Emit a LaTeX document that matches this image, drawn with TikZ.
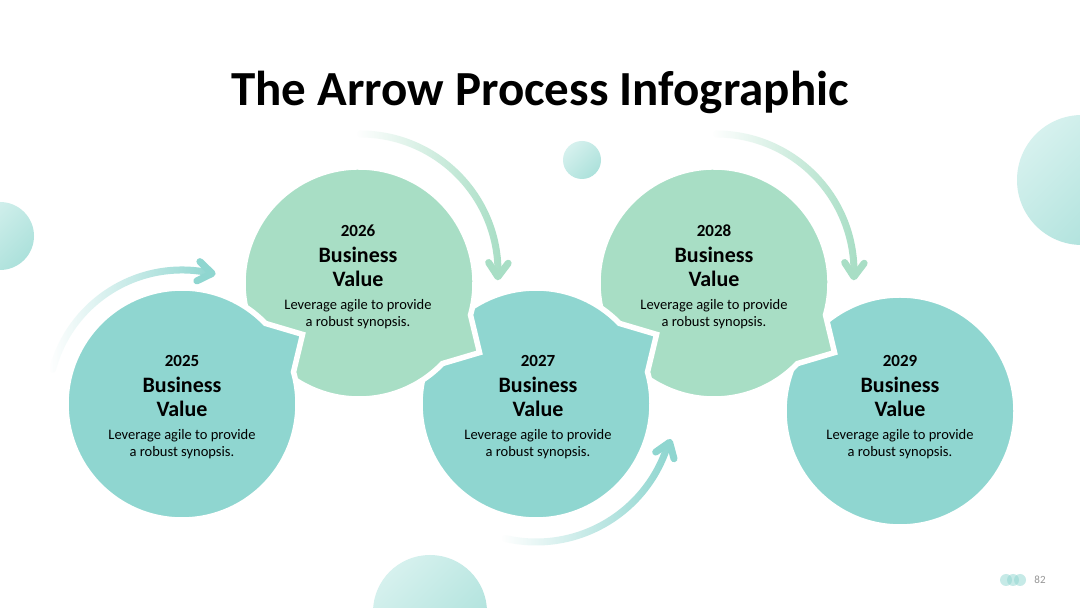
\documentclass[tikz,border=0pt]{standalone}
\usepackage{fontspec}
\setmainfont{Carlito}
\usepackage{xcolor}
\usetikzlibrary{calc, fadings}
\definecolor{tealfill}{RGB}{143, 214, 208}
\definecolor{greenfill}{RGB}{168, 222, 197}
\definecolor{softteal}{RGB}{214, 241, 238}
\definecolor{deepsoft}{RGB}{172, 225, 219}
\definecolor{pagegray}{RGB}{150, 150, 150}

\tikzfading[name=fadein, left color=transparent!100, middle color=transparent!10, right color=transparent!0]

% speech bubble: centre, tip angle, radius, colour
\newcommand{\bubble}[4]{%
  \path[bubble, fill=#4]
    ($(#1)+(#2-14:#3)$) -- ($(#1)+(#2:{#3*1.2})$) -- ($(#1)+(#2+14:#3)$)
    arc[start angle=#2+14, end angle=#2+346, radius=#3] -- cycle;}

\begin{document}
\begin{tikzpicture}[
    x=1pt, y=1pt,
    bubble/.style={draw=white, line width=5.5pt},
    flow/.style={line width=7pt, line cap=round, path fading=fadein},
    chev/.style={line width=7pt, line cap=round, line join=round},
    decor/.style={top color=softteal, bottom color=deepsoft, shading angle=45},
    title/.style={font=\fontsize{49}{49}\selectfont\bfseries, anchor=base},
    yearlbl/.style={font=\fontsize{17}{17}\selectfont\bfseries, anchor=base},
    headlbl/.style={font=\fontsize{22}{22}\selectfont\bfseries, anchor=base},
    notelbl/.style={font=\fontsize{14.5}{14.5}\selectfont, anchor=base}
]
\useasboundingbox[fill=white] (0,0) rectangle (1080,608);

%% ── Soft circles ────────────────────────────────────────────────────────────
\shade[decor] (582,448) circle[radius=19];
\shade[decor] (0,372) circle[radius=34];
\shade[decor] (1082,428) circle[radius=65];
\shade[decor] (430,-4) circle[radius=57];

%% ── Title ───────────────────────────────────────────────────────────────────
\node[title] (heading) at (540,502) {The Arrow Process Infographic};

%% ── Bubbles (last one underneath) ───────────────────────────────────────────
\coordinate (c1) at (182,204);
\coordinate (c2) at (359,325);
\coordinate (c3) at (536,204);
\coordinate (c4) at (714,325);
\coordinate (c5) at (900,197);

\path[bubble, fill=tealfill] (c5) circle[radius=116];
\bubble{c4}{-30}{116}{greenfill}
\bubble{c3}{30}{116}{tealfill}
\bubble{c2}{-30}{116}{greenfill}
\bubble{c1}{30}{116}{tealfill}

%% ── Curved arrows ───────────────────────────────────────────────────────────
\draw[flow, tealfill] ($(c1)+(165:134)$) arc[start angle=165, end angle=78, radius=134];
\draw[chev, tealfill] ($(c1)+(77:134)+(-9+145:17)$) -- ($(c1)+(77:134)$) -- ($(c1)+(77:134)+(-9-145:17)$);

\draw[flow, greenfill] ($(c2)+(1,11)+(90:138)$) arc[start angle=90, end angle=0, radius=138];
\draw[chev, greenfill] ($(c2)+(1,11)+(-2:138)+(-92+145:17)$) -- ($(c2)+(1,11)+(-2:138)$) -- ($(c2)+(1,11)+(-2:138)+(-92-145:17)$);

\draw[flow, tealfill] ($(c3)+(-103:138)$) arc[start angle=-103, end angle=-18, radius=138];
\draw[chev, tealfill] ($(c3)+(-16:139)+(70+145:17)$) -- ($(c3)+(-16:139)$) -- ($(c3)+(-16:139)+(70-145:17)$);

\draw[flow, greenfill] ($(c4)+(2,11)+(90:138)$) arc[start angle=90, end angle=0, radius=138];
\draw[chev, greenfill] ($(c4)+(2,11)+(-2:138)+(-92+145:17)$) -- ($(c4)+(2,11)+(-2:138)$) -- ($(c4)+(2,11)+(-2:138)+(-92-145:17)$);

%% ── Texts ───────────────────────────────────────────────────────────────────
\foreach \n/\cx/\by/\yr in {1/182/241/2025, 2/358/371/2026, 3/538/241/2027, 4/714/371/2028, 5/900/241/2029} {
  \node[yearlbl] (yr\n)  at (\cx,\by)    {\yr};
  \node[headlbl] (hda\n) at (\cx,\by-26) {Business};
  \node[headlbl] (hdb\n) at (\cx,\by-50) {Value};
  \node[notelbl] (nta\n) at (\cx,\by-73) {Leverage agile to provide};
  \node[notelbl] (ntb\n) at (\cx,\by-90) {a robust synopsis.};
}

%% ── Page number ─────────────────────────────────────────────────────────────
\fill[tealfill, opacity=0.5] (1006,28) circle[radius=6];
\fill[tealfill, opacity=0.5] (1013,28) circle[radius=6];
\fill[tealfill, opacity=0.5] (1020,28) circle[radius=6];
\node[font=\fontsize{11}{11}\selectfont, text=pagegray] (pageno) at (1040,28) {82};

\end{tikzpicture}
\end{document}
